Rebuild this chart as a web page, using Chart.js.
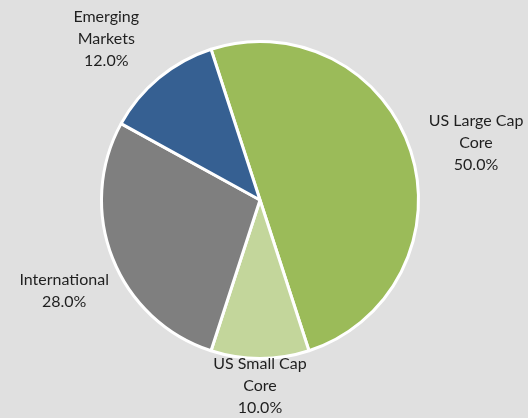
<!DOCTYPE html>
<html>
<head>
<meta charset="utf-8">
<script src="https://cdn.jsdelivr.net/npm/chart.js@4"></script>
<style>
  html, body { margin: 0; padding: 0; background: #e0e0e0; }
  #wrap { width: 528px; height: 418px; }
</style>
</head>
<body>
<div id="wrap"><canvas id="graficoPie"></canvas></div>
<script>
const categorias = ["US Large Cap Core", "US Small Cap Core", "International", "Emerging Markets"];
const lineasEtiqueta = [["US Large Cap", "Core"], ["US Small Cap", "Core"], ["International"], ["Emerging", "Markets"]];
const valores = [50.0, 10.0, 28.0, 12.0];
const colores = ["#9bbb59", "#c3d69b", "#7f7f7f", "#366092"];

// etiquetas fuera del pastel, estilo Excel
const etiquetasFuera = {
  id: "etiquetasFuera",
  afterDatasetsDraw(chart, args, opts) {
    const ctx = chart.ctx;
    const meta = chart.getDatasetMeta(0);
    const total = valores.reduce((a, b) => a + b, 0);
    const lineH = 22;
    ctx.save();
    ctx.font = "16px Lato";
    ctx.fillStyle = "#1f1f1f";
    ctx.textAlign = "center";
    ctx.textBaseline = "middle";
    meta.data.forEach((arc, i) => {
      const lineas = lineasEtiqueta[i].concat([(valores[i] / total * 100).toFixed(1) + "%"]);
      const w = Math.max(...lineas.map(l => ctx.measureText(l).width));
      const h = lineas.length * lineH;
      const mid = (arc.startAngle + arc.endAngle) / 2;
      const dx = Math.cos(mid), dy = Math.sin(mid);
      const dist = arc.outerRadius + 2 + 12 * Math.abs(dx) + Math.abs(dx) * w / 2 + Math.abs(dy) * h / 2;
      const ajuste = opts.ajustes[i] || [0, 0];
      const cx = arc.x + dx * dist + ajuste[0];
      const cy = arc.y + dy * dist + ajuste[1];
      lineas.forEach((l, j) => {
        ctx.fillText(l, cx, cy - h / 2 + lineH / 2 + j * lineH);
      });
    });
    ctx.restore();
  }
};

const ctx = document.getElementById("graficoPie").getContext("2d");
new Chart(ctx, {
  type: "pie",
  data: {
    labels: categorias,
    datasets: [{
      data: valores,
      backgroundColor: colores,
      borderColor: "#ffffff",
      borderWidth: 3
    }]
  },
  options: {
    responsive: true,
    maintainAspectRatio: false,
    animation: false,
    rotation: -18,
    layout: { padding: { left: 100, right: 108, top: 40, bottom: 58 } },
    plugins: {
      legend: { display: false },
      tooltip: { enabled: false },
      etiquetasFuera: { ajustes: [[0, 13], [0, -8], [10, 9], [-17, 4]] }
    }
  },
  plugins: [etiquetasFuera]
});
</script>
</body>
</html>
